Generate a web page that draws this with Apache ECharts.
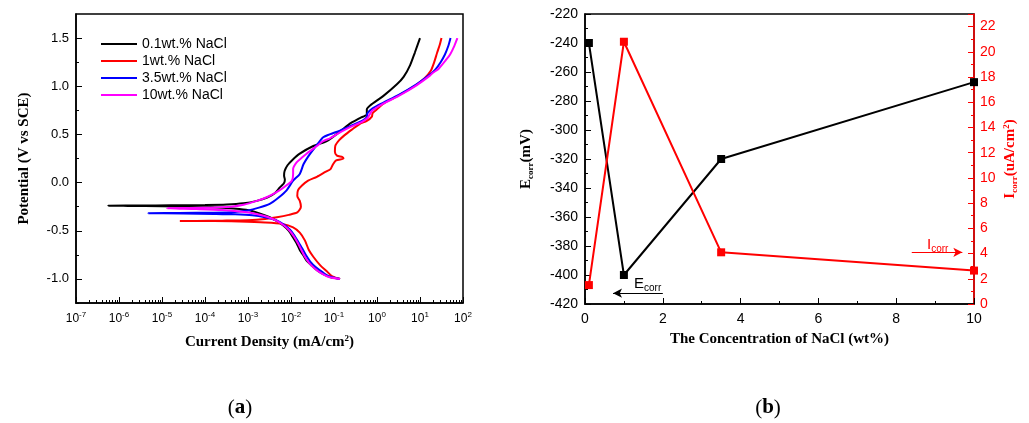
<!DOCTYPE html>
<html><head><meta charset="utf-8">
<script src="https://cdn.jsdelivr.net/npm/echarts@6/dist/echarts.min.js"></script>
<style>html,body{margin:0;padding:0;background:#fff}#c{width:1029px;height:423px}</style>
</head><body><div id="c"></div>
<script>
// ---------- Panel (a): polarization curves (current density mA/cm2, potential V vs SCE) ----------
const seriesNames = ['0.1wt.% NaCl', '1wt.% NaCl', '3.5wt.% NaCl', '10wt.% NaCl'];
const seriesColors = ['#000000', '#ff0000', '#0000ff', '#ff00ff'];

const current01 = [1.38e-1,8.1e-2,5.6e-2,4.0e-2,3.0e-2,2.3e-2,1.9e-2,1.6e-2,1.35e-2,1.12e-2,8.9e-3,6.6e-3,4.7e-3,3.2e-3,2.0e-3,1.12e-3,6.3e-4,2.5e-4,6.3e-5,1.0e-5,1.6e-6,5.6e-7,
  3.2e-6,1.6e-5,1.0e-4,3.2e-4,7.9e-4,1.6e-3,2.8e-3,4.2e-3,5.5e-3,6.8e-3,7.2e-3,6.9e-3,7.1e-3,8.3e-3,1.05e-2,1.6e-2,3.3e-2,6.8e-2,1.38e-1,2.3e-1,4.0e-1,5.8e-1,5.8e-1,6.9e-1,1.41,2.9,4.2,5.9,7.6,10];
const potential01 = [-1.00,-0.98,-0.95,-0.91,-0.86,-0.81,-0.75,-0.70,-0.63,-0.57,-0.50,-0.445,-0.40,-0.36,-0.325,-0.29,-0.275,-0.26,-0.25,-0.245,-0.242,-0.24,
  -0.238,-0.236,-0.233,-0.228,-0.215,-0.19,-0.155,-0.11,-0.05,-0.01,0.03,0.07,0.12,0.18,0.23,0.30,0.38,0.43,0.53,0.61,0.67,0.71,0.76,0.80,0.90,1.02,1.10,1.22,1.35,1.50];

const current1 = [1.38e-1,8.9e-2,6.8e-2,4.8e-2,3.3e-2,2.6e-2,2.1e-2,1.6e-2,1.12e-2,6.3e-3,2.5e-3,6.3e-4,1.6e-4,2.6e-5,
  6.3e-5,2.5e-4,1.0e-3,2.5e-3,4.7e-3,8.9e-3,1.4e-2,1.7e-2,1.6e-2,1.4e-2,1.45e-2,1.8e-2,2.5e-2,4.0e-2,6.3e-2,8.3e-2,9.5e-2,1.12e-1,1.66e-1,1.58e-1,1.17e-1,1.05e-1,1.07e-1,1.32e-1,1.74e-1,2.6e-1,4.0e-1,5.8e-1,7.6e-1,7.9e-1,1.0,1.41,2.5,4.0,7.9,12.6,17.8,21.4,25.1,28.8,31.6];
const potential1 = [-1.00,-0.97,-0.92,-0.86,-0.77,-0.70,-0.60,-0.52,-0.465,-0.43,-0.415,-0.405,-0.40,-0.40,
  -0.398,-0.395,-0.39,-0.378,-0.36,-0.335,-0.31,-0.25,-0.19,-0.14,-0.08,-0.03,0.02,0.06,0.11,0.14,0.19,0.23,0.25,0.265,0.28,0.32,0.38,0.44,0.49,0.55,0.61,0.64,0.685,0.72,0.76,0.82,0.88,0.93,1.01,1.08,1.16,1.25,1.35,1.43,1.50];

const current35 = [1.38e-1,7.9e-2,5.4e-2,3.8e-2,2.8e-2,2.2e-2,1.8e-2,1.45e-2,1.2e-2,9.5e-3,7.1e-3,4.5e-3,2.5e-3,1.26e-3,5.0e-4,1.6e-4,3.2e-5,4.8e-6,
  2.5e-5,1.6e-4,5.0e-4,1.0e-3,1.8e-3,3.2e-3,5.0e-3,7.9e-3,1.12e-2,1.6e-2,1.95e-2,2.5e-2,3.6e-2,4.5e-2,5.6e-2,7.9e-2,1.38e-1,2.5e-1,4.5e-1,5.8e-1,6.0e-1,7.9e-1,1.41,3.2,8.3,15.8,22.4,30.2,38,45.7,51.3];
const potential35 = [-1.00,-0.975,-0.93,-0.88,-0.82,-0.75,-0.68,-0.61,-0.55,-0.49,-0.44,-0.39,-0.36,-0.34,-0.33,-0.325,-0.32,-0.318,
  -0.315,-0.312,-0.305,-0.29,-0.26,-0.22,-0.16,-0.08,0.02,0.09,0.19,0.27,0.365,0.42,0.47,0.50,0.54,0.59,0.64,0.68,0.72,0.77,0.83,0.91,1.02,1.11,1.17,1.25,1.33,1.42,1.50];

const current10 = [1.38e-1,7.6e-2,5.0e-2,3.5e-2,2.6e-2,2.1e-2,1.74e-2,1.45e-2,1.17e-2,9.3e-3,7.1e-3,4.8e-3,2.8e-3,1.4e-3,6.3e-4,2.5e-4,6.3e-5,1.3e-5,
  5.0e-5,1.6e-4,4.0e-4,7.9e-4,1.6e-3,2.8e-3,4.2e-3,6.3e-3,8.3e-3,1.05e-2,1.12e-2,1.12e-2,1.35e-2,1.8e-2,2.3e-2,4.0e-2,5.6e-2,8.1e-2,1.38e-1,2.5e-1,4.5e-1,6.0e-1,6.6e-1,7.9e-1,1.41,3.2,8.3,17,20,26.9,39.8,50.1,63,74];
const potential10 = [-1.00,-0.98,-0.94,-0.89,-0.83,-0.77,-0.70,-0.63,-0.56,-0.50,-0.45,-0.40,-0.355,-0.32,-0.30,-0.285,-0.275,-0.266,
  -0.263,-0.258,-0.25,-0.23,-0.19,-0.15,-0.11,-0.06,-0.02,0.02,0.09,0.14,0.21,0.26,0.30,0.38,0.43,0.46,0.52,0.58,0.63,0.67,0.70,0.75,0.82,0.90,1.01,1.11,1.14,1.18,1.27,1.33,1.42,1.50];

const potentialLabels = [-1.0, -0.5, 0.0, 0.5, 1.0, 1.5];
const potentialMinor = [-1.25, -0.75, -0.25, 0.25, 0.75, 1.25];
const currentDecades = [1e-7, 1e-6, 1e-5, 1e-4, 1e-3, 1e-2, 1e-1, 1e0, 1e1, 1e2];

// ---------- Panel (b): Ecorr / Icorr vs NaCl concentration ----------
const concentration = [0.1, 1, 3.5, 10];
const ecorr = [-240, -400, -320, -267];
const icorr = [1.5, 20.8, 4.1, 2.65];

const serif = '"Liberation Serif","Times New Roman",serif';
const sans = '"Liberation Sans",Arial,sans-serif';

const zip = (a, b) => a.map((v, i) => [v, b[i]]);
const curves = [[current01, potential01], [current1, potential1], [current35, potential35], [current10, potential10]];

const minorDecadeTicks = [];
currentDecades.slice(0, -1).forEach(d => { for (let k = 2; k <= 9; k++) minorDecadeTicks.push(d * k); });

const chart = echarts.init(document.getElementById('c'), null, {renderer: 'canvas'});

const subRich = {
  b: {fontFamily: serif, fontWeight: 'bold', fontSize: 15},
  s: {fontFamily: serif, fontWeight: 'bold', fontSize: 9, padding: [8, 0, 0, 0]},
  p: {fontFamily: serif, fontWeight: 'bold', fontSize: 9, padding: [0, 0, 8, 0]}
};
const subRichRed = {
  b: {fontFamily: serif, fontWeight: 'bold', fontSize: 15, color: '#ff0000'},
  s: {fontFamily: serif, fontWeight: 'bold', fontSize: 9, color: '#ff0000', padding: [8, 0, 0, 0]},
  p: {fontFamily: serif, fontWeight: 'bold', fontSize: 9, color: '#ff0000', padding: [0, 0, 8, 0]}
};

const option = {
  animation: false,
  backgroundColor: '#ffffff',
  grid: [
    {left: 76, right: 566, top: 14, bottom: 120, show: true, borderColor: '#000', borderWidth: 1.5},
    {left: 585, right: 55, top: 14, bottom: 119, show: true, borderColor: '#000', borderWidth: 1.5}
  ],
  legend: {
    data: seriesNames,
    orient: 'vertical', left: 96, top: 32,
    itemWidth: 36, itemHeight: 14, itemGap: 3,
    textStyle: {fontFamily: sans, fontSize: 14, color: '#000'},
    icon: 'path://M0,6 L36,6 L36,8 L0,8 Z'
  },
  xAxis: [
    {
      type: 'log', logBase: 10, gridIndex: 0, min: 1e-7, max: 100, position: 'bottom',
      axisLine: {onZero: false, lineStyle: {color: '#000', width: 1.5}},
      axisTick: {inside: true, length: 6, customValues: currentDecades, lineStyle: {color: '#000'}},
      axisLabel: {
        customValues: currentDecades, margin: 8, color: '#000',
        fontFamily: sans, fontSize: 12,
        formatter: v => '10{s|' + Math.round(Math.log10(v)) + '}',
        rich: {s: {fontFamily: sans, fontSize: 8, padding: [0, 0, 7, 0]}}
      },
      splitLine: {show: false},
      name: '{b|Current Density (mA/cm}{p|2}{b|)}',
      nameLocation: 'middle', nameGap: 31,
      nameTextStyle: {rich: subRich}
    },
    {
      type: 'log', logBase: 10, gridIndex: 0, min: 1e-7, max: 100, position: 'bottom',
      axisLine: {show: false, onZero: false},
      axisTick: {inside: true, length: 3, customValues: minorDecadeTicks, lineStyle: {color: '#000'}},
      axisLabel: {show: false}, splitLine: {show: false}
    },
    {
      type: 'value', gridIndex: 1, min: 0, max: 10, interval: 2, position: 'bottom',
      axisLine: {onZero: false, lineStyle: {color: '#000', width: 1.5}},
      axisTick: {inside: true, length: 6, lineStyle: {color: '#000'}},
      minorTick: {show: true, splitNumber: 2, length: 3, lineStyle: {color: '#000'}},
      axisLabel: {color: '#000', fontFamily: sans, fontSize: 14, margin: 8},
      splitLine: {show: false},
      name: 'The Concentration of NaCl (wt%)',
      nameLocation: 'middle', nameGap: 28,
      nameTextStyle: {fontFamily: serif, fontWeight: 'bold', fontSize: 15, color: '#000'}
    }
  ],
  yAxis: [
    {
      type: 'value', gridIndex: 0, min: -1.25, max: 1.75, position: 'left',
      axisLine: {onZero: false, lineStyle: {color: '#000', width: 1.5}},
      axisTick: {inside: true, length: 6, customValues: potentialLabels, lineStyle: {color: '#000'}},
      axisLabel: {customValues: potentialLabels, color: '#000', fontFamily: sans, fontSize: 13, margin: 7,
        formatter: v => v.toFixed(1)},
      splitLine: {show: false},
      name: 'Potential (V vs SCE)', nameLocation: 'middle', nameGap: 44,
      nameTextStyle: {fontFamily: serif, fontWeight: 'bold', fontSize: 15, color: '#000'}
    },
    {
      type: 'value', gridIndex: 0, min: -1.25, max: 1.75, position: 'left',
      axisLine: {show: false, onZero: false},
      axisTick: {inside: true, length: 3, customValues: potentialMinor, lineStyle: {color: '#000'}},
      axisLabel: {show: false}, splitLine: {show: false}
    },
    {
      type: 'value', gridIndex: 1, min: -420, max: -220, interval: 20, position: 'left',
      axisLine: {onZero: false, lineStyle: {color: '#000', width: 1.5}},
      axisTick: {inside: true, length: 6, lineStyle: {color: '#000'}},
      minorTick: {show: true, splitNumber: 2, length: 3, lineStyle: {color: '#000'}},
      axisLabel: {color: '#000', fontFamily: sans, fontSize: 14, margin: 7},
      splitLine: {show: false},
      name: '{b|E}{s|corr}{b|(mV)}', nameLocation: 'middle', nameGap: 50,
      nameTextStyle: {rich: subRich}
    },
    {
      type: 'value', gridIndex: 1, min: 0, max: 23, interval: 2, position: 'right',
      axisLine: {show: true, onZero: false, lineStyle: {color: '#ff0000', width: 1.5}},
      axisTick: {show: true, inside: true, length: 6, lineStyle: {color: '#ff0000'}},
      minorTick: {show: true, splitNumber: 2, length: 3, lineStyle: {color: '#ff0000'}},
      axisLabel: {color: '#ff0000', fontFamily: sans, fontSize: 14, margin: 6, showMaxLabel: false},
      splitLine: {show: false},
      name: '{b|I}{s|corr}{b|(uA/cm}{p|2}{b|)}', nameLocation: 'middle', nameGap: 28,
      nameTextStyle: {rich: subRichRed}
    }
  ],
  series: [
    ...curves.map((c, i) => ({
      name: seriesNames[i], type: 'line', xAxisIndex: 0, yAxisIndex: 0,
      data: zip(c[0], c[1]), symbol: 'none', smooth: 0.25,
      lineStyle: {color: seriesColors[i], width: 2}, itemStyle: {color: seriesColors[i]}
    })),
    {
      name: 'Ecorr', type: 'line', xAxisIndex: 2, yAxisIndex: 2,
      data: zip(concentration, ecorr), symbol: 'rect', symbolSize: 8,
      lineStyle: {color: '#000', width: 2}, itemStyle: {color: '#000'},
      markLine: {
        silent: true, symbol: ['none', 'arrow'], symbolSize: [7, 9], label: {show: false},
        lineStyle: {color: '#000', type: 'solid', width: 1.2},
        data: [[{coord: [2, -412.5]}, {coord: [0.72, -412.5]}]]
      }
    },
    {
      name: 'Icorr', type: 'line', xAxisIndex: 2, yAxisIndex: 3,
      data: zip(concentration, icorr), symbol: 'rect', symbolSize: 8,
      lineStyle: {color: '#ff0000', width: 2}, itemStyle: {color: '#ff0000'},
      markLine: {
        silent: true, symbol: ['none', 'arrow'], symbolSize: [7, 9], label: {show: false},
        lineStyle: {color: '#ff0000', type: 'solid', width: 1.2},
        data: [[{coord: [8.4, 4.1]}, {coord: [9.7, 4.1]}]]
      }
    }
  ],
  graphic: [
    {type: 'text', x: 634, y: 275, style: {text: '{b|E}{s|corr}', rich: {
      b: {fontFamily: sans, fontSize: 15, fill: '#000'},
      s: {fontFamily: sans, fontSize: 10, fill: '#000', padding: [8, 0, 0, 0]}}}},
    {type: 'text', x: 927, y: 236, style: {text: '{b|I}{s|corr}', rich: {
      b: {fontFamily: sans, fontSize: 15, fill: '#ff0000'},
      s: {fontFamily: sans, fontSize: 10, fill: '#ff0000', padding: [8, 0, 0, 0]}}}},
    {type: 'text', x: 240, y: 408, style: {text: '({b|a})', align: 'center', verticalAlign: 'middle',
      font: '21px ' + serif, fill: '#000', rich: {b: {fontFamily: serif, fontWeight: 'bold', fontSize: 21}}}},
    {type: 'text', x: 768, y: 408, style: {text: '({b|b})', align: 'center', verticalAlign: 'middle',
      font: '21px ' + serif, fill: '#000', rich: {b: {fontFamily: serif, fontWeight: 'bold', fontSize: 21}}}}
  ]
};
chart.setOption(option);
</script></body></html>
